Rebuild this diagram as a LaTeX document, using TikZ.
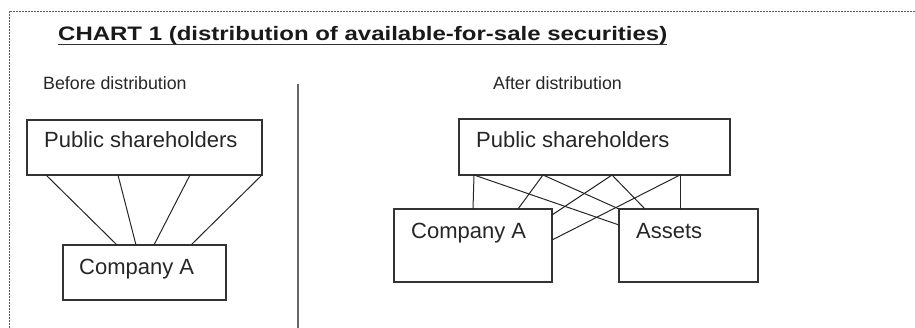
\documentclass[tikz,border=0pt]{standalone}
\usepackage{fontspec}
\setmainfont{Liberation Sans}
\newfontfamily\titlefont[FakeStretch=1.23]{Liberation Sans}
\usetikzlibrary{calc}
\begin{document}
\begin{tikzpicture}[x=1pt,y=-1pt,
  box/.style={draw=black!80,line width=1.2pt,rectangle,inner sep=0pt,outer sep=0pt},
  lbl/.style={anchor=base west,inner sep=0pt,text=black!85,font=\fontsize{22}{26}\selectfont},
  small/.style={anchor=base west,inner sep=0pt,text=black!85,font=\fontsize{17.8}{20}\selectfont},
  conn/.style={draw=black!85,line width=1pt},
  frame/.style={draw=black!65,line width=0.9pt,dash pattern=on 2pt off 1pt}]
\useasboundingbox (0,0) rectangle (915,328);
% frame
\coordinate (ftr) at (915,11);
\coordinate (ftl) at (9,11);
\coordinate (fbl) at (9,328);
\draw[frame] (ftr) -- (ftl) -- (fbl);
% title
\node[anchor=base west,inner sep=0pt,font=\titlefont\fontsize{19.5}{22}\selectfont\bfseries,text=black!90] (title) at (58,40.7) {CHART 1 (distribution of available-for-sale securities)};
\draw[black!80,line width=1pt] ([yshift=-4pt]title.base west) -- ([yshift=-4pt]title.base east);
% divider
\coordinate (dtop) at (298,84);
\coordinate (dbot) at (298,328);
\draw[black!60,line width=1.6pt] (dtop) -- (dbot);
% headings
\node[small] (before) at (43,89.5) {Before distribution};
\node[small] (after) at (493,89.5) {After distribution};
% left boxes
\node[box,minimum width=235pt,minimum height=55pt] (lps) at (144.5,147.5) {};
\node[lbl] (lpst) at (44,148) {Public shareholders};
\node[box,minimum width=163pt,minimum height=55pt] (lca) at (144.5,272.5) {};
\node[lbl] (lcat) at (79,275) {Company A};
% left connectors
\draw[conn] ($(lps.south west)+(19,0)$) -- ($(lca.north west)+(54,0)$);
\draw[conn] ($(lps.south west)+(91,0)$) -- ($(lca.north west)+(73,0)$);
\draw[conn] ($(lps.south west)+(163,0)$) -- ($(lca.north west)+(91,0)$);
\draw[conn] ($(lps.south west)+(235,0)$) -- ($(lca.north west)+(128,0)$);
% right boxes
\node[box,minimum width=271pt,minimum height=56pt] (rps) at (594.5,147) {};
\node[lbl] (rpst) at (476,148) {Public shareholders};
\node[box,minimum width=158pt,minimum height=73pt] (rca) at (473,245.5) {};
\node[lbl] (rcat) at (411,239) {Company A};
\node[box,minimum width=139pt,minimum height=73pt] (ras) at (688.5,245.5) {};
\node[lbl] (rast) at (636,239) {Assets};
% right connectors
\draw[conn] ($(rps.south west)+(15,0)$) -- ($(rca.north west)+(79,0)$);
\draw[conn] ($(rps.south west)+(15,0)$) -- ($(ras.north west)+(0,16)$);
\draw[conn] ($(rps.south west)+(84,0)$) -- ($(rca.north west)+(124,0)$);
\draw[conn] ($(rps.south west)+(84,0)$) -- (ras.north west);
\draw[conn] ($(rps.south west)+(153,0)$) -- ($(rca.north east)+(0,6)$);
\draw[conn] ($(rps.south west)+(153,0)$) -- ($(ras.north west)+(26,0)$);
\draw[conn] ($(rps.south west)+(221,0)$) -- ($(rca.north east)+(0,31)$);
\draw[conn] ($(rps.south west)+(221,0)$) -- ($(ras.north west)+(61,0)$);
\end{tikzpicture}
\end{document}
